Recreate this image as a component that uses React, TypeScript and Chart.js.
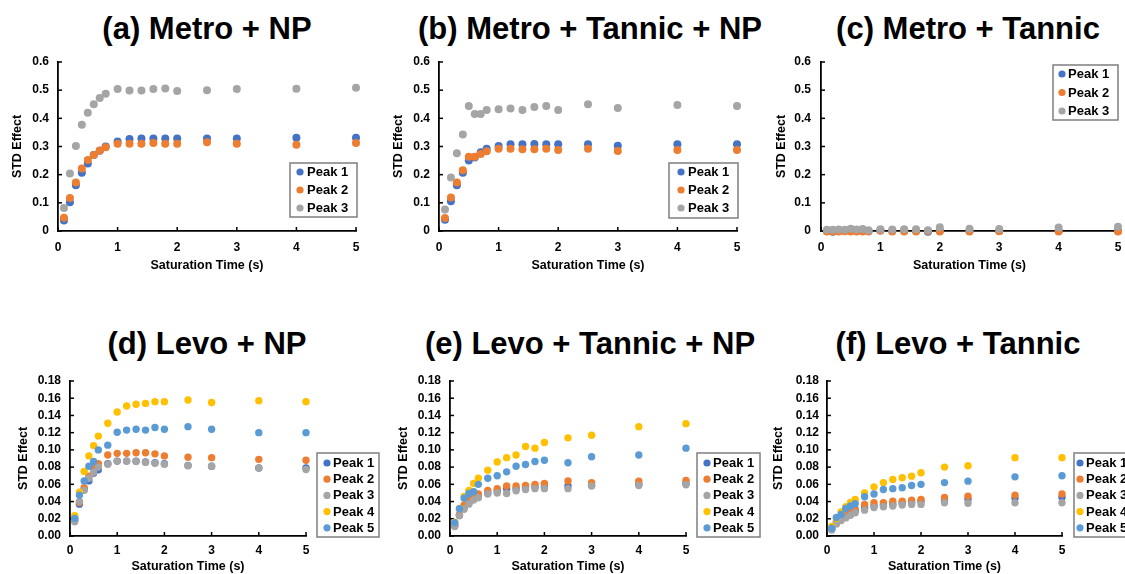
import React, { useEffect, useRef } from 'react';
import { Chart, registerables } from 'chart.js';

Chart.register(...registerables);

const PAGE_W = 1125;
const PAGE_H = 574;
const FONT = '"Liberation Sans", Arial, Helvetica, sans-serif';

// ---------- data ----------
const metroTimes = [0.1, 0.2, 0.3, 0.4, 0.5, 0.6, 0.7, 0.8, 1, 1.2, 1.4, 1.6, 1.8, 2, 2.5, 3, 4, 5];
const levoTimes = [0.1, 0.2, 0.3, 0.4, 0.5, 0.6, 0.8, 1, 1.2, 1.4, 1.6, 1.8, 2, 2.5, 3, 4, 5];

const peakLabels = ['Peak 1', 'Peak 2', 'Peak 3', 'Peak 4', 'Peak 5'];
const peakColors = ['#4472C4', '#ED7D31', '#A5A5A5', '#FFC000', '#5B9BD5'];

// (a) Metro + NP
const aPeak1 = [0.037, 0.102, 0.162, 0.207, 0.24, 0.27, 0.285, 0.3, 0.318, 0.327, 0.328, 0.328, 0.328, 0.328, 0.328, 0.328, 0.331, 0.331];
const aPeak2 = [0.047, 0.117, 0.172, 0.222, 0.252, 0.27, 0.286, 0.297, 0.31, 0.31, 0.31, 0.312, 0.31, 0.31, 0.315, 0.31, 0.306, 0.312];
const aPeak3 = [0.082, 0.204, 0.302, 0.377, 0.42, 0.45, 0.472, 0.487, 0.504, 0.499, 0.499, 0.504, 0.506, 0.497, 0.5, 0.504, 0.505, 0.509];

// (b) Metro + Tannic + NP
const bPeak1 = [0.04, 0.106, 0.162, 0.207, 0.25, 0.261, 0.28, 0.292, 0.302, 0.308, 0.308, 0.309, 0.308, 0.308, 0.308, 0.303, 0.308, 0.308];
const bPeak2 = [0.046, 0.119, 0.172, 0.216, 0.264, 0.264, 0.273, 0.283, 0.292, 0.292, 0.29, 0.29, 0.292, 0.288, 0.292, 0.284, 0.288, 0.288];
const bPeak3 = [0.076, 0.19, 0.276, 0.343, 0.444, 0.415, 0.415, 0.43, 0.432, 0.435, 0.43, 0.44, 0.444, 0.43, 0.45, 0.437, 0.447, 0.444];

// (c) Metro + Tannic
const cPeak1 = [0.0, -0.003, 0.0, 0.0, 0.001, 0.0, 0.001, 0.0, 0.002, 0.0, 0.001, 0.001, -0.003, 0.001, 0.0, 0.0, 0.001, 0.001];
const cPeak2 = [-0.002, -0.002, -0.002, -0.001, -0.002, -0.002, -0.002, -0.002, 0.002, -0.002, -0.002, -0.002, 0.0, -0.002, -0.002, -0.001, -0.002, -0.002];
const cPeak3 = [0.004, 0.004, 0.005, 0.004, 0.008, 0.005, 0.007, 0.003, 0.006, 0.005, 0.006, 0.006, 0.003, 0.013, 0.008, 0.007, 0.012, 0.015];

// (d) Levo + NP
const dPeak1 = [0.018, 0.037, 0.054, 0.064, 0.073, 0.077, 0.084, 0.087, 0.087, 0.087, 0.086, 0.085, 0.084, 0.082, 0.081, 0.079, 0.079];
const dPeak2 = [0.02, 0.039, 0.056, 0.0695, 0.08, 0.084, 0.094, 0.096, 0.096, 0.0966, 0.0966, 0.0954, 0.093, 0.0915, 0.091, 0.089, 0.088];
const dPeak3 = [0.0166, 0.04, 0.053, 0.067, 0.074, 0.08, 0.0834, 0.087, 0.087, 0.0865, 0.0857, 0.0846, 0.0834, 0.0815, 0.081, 0.079, 0.0773];
const dPeak4 = [0.0236, 0.051, 0.075, 0.093, 0.105, 0.116, 0.131, 0.144, 0.151, 0.153, 0.154, 0.156, 0.156, 0.158, 0.155, 0.157, 0.156];
const dPeak5 = [0.0205, 0.0475, 0.064, 0.081, 0.0865, 0.1, 0.1055, 0.1205, 0.123, 0.124, 0.123, 0.126, 0.124, 0.127, 0.124, 0.12, 0.12];

// (e) Levo + Tannic + NP
const ePeak1 = [0.012, 0.024, 0.033, 0.039, 0.044, 0.046, 0.05, 0.052, 0.055, 0.055, 0.056, 0.057, 0.057, 0.058, 0.059, 0.06, 0.061];
const ePeak2 = [0.013, 0.025, 0.036, 0.042, 0.046, 0.0487, 0.053, 0.055, 0.058, 0.058, 0.0587, 0.06, 0.061, 0.064, 0.062, 0.0637, 0.0645];
const ePeak3 = [0.011, 0.0236, 0.031, 0.037, 0.0417, 0.0444, 0.0487, 0.05, 0.0494, 0.0525, 0.054, 0.055, 0.055, 0.055, 0.058, 0.0587, 0.0595];
const ePeak4 = [0.016, 0.032, 0.046, 0.053, 0.061, 0.067, 0.0765, 0.086, 0.091, 0.094, 0.104, 0.102, 0.1085, 0.114, 0.117, 0.127, 0.1305];
const ePeak5 = [0.0155, 0.0317, 0.044, 0.0494, 0.0514, 0.06, 0.067, 0.07, 0.0745, 0.081, 0.083, 0.0865, 0.088, 0.085, 0.092, 0.094, 0.102];

// (f) Levo + Tannic
const fPeak1 = [0.008, 0.015, 0.02, 0.024, 0.027, 0.029, 0.033, 0.035, 0.036, 0.037, 0.038, 0.039, 0.04, 0.041, 0.043, 0.044, 0.045];
const fPeak2 = [0.008, 0.017, 0.022, 0.026, 0.029, 0.031, 0.0367, 0.0386, 0.0386, 0.0405, 0.0405, 0.0417, 0.0425, 0.0448, 0.0463, 0.0475, 0.0487];
const fPeak3 = [0.007, 0.014, 0.018, 0.021, 0.024, 0.027, 0.03, 0.033, 0.034, 0.0348, 0.036, 0.0367, 0.0367, 0.0386, 0.038, 0.0386, 0.0386];
const fPeak4 = [0.011, 0.0205, 0.028, 0.034, 0.039, 0.0425, 0.05, 0.057, 0.062, 0.0657, 0.0676, 0.0695, 0.0734, 0.08, 0.0815, 0.091, 0.091];
const fPeak5 = [0.009, 0.0216, 0.025, 0.032, 0.0348, 0.0375, 0.0456, 0.0487, 0.054, 0.055, 0.056, 0.0587, 0.06, 0.062, 0.0637, 0.0687, 0.07];

// ticks
const xTickValues = [0, 1, 2, 3, 4, 5];
const xTickLabels = ['0', '1', '2', '3', '4', '5'];
const metroYTickValues = [0, 0.1, 0.2, 0.3, 0.4, 0.5, 0.6];
const metroYTickLabels = ['0', '0.1', '0.2', '0.3', '0.4', '0.5', '0.6'];
const levoYTickValues = [0, 0.02, 0.04, 0.06, 0.08, 0.1, 0.12, 0.14, 0.16, 0.18];
const levoYTickLabels = ['0.00', '0.02', '0.04', '0.06', '0.08', '0.10', '0.12', '0.14', '0.16', '0.18'];

const xTitle = 'Saturation Time (s)';
const yTitle = 'STD Effect';

// ---------- plugins ----------
const boxLegendPlugin = {
  id: 'boxLegend',
  afterDraw(chart: any, _args: any, opts: any) {
    if (!opts || !opts.display) return;
    const ctx = chart.ctx;
    ctx.save();
    ctx.fillStyle = '#ffffff';
    ctx.fillRect(opts.x, opts.y, opts.w, opts.h);
    ctx.strokeStyle = '#7f7f7f';
    ctx.lineWidth = 1.5;
    ctx.strokeRect(opts.x, opts.y, opts.w, opts.h);
    chart.data.datasets.forEach((ds: any, i: number) => {
      const cy = opts.firstRowY + i * opts.rowH;
      ctx.beginPath();
      ctx.arc(opts.markerX, cy, 3.6, 0, Math.PI * 2);
      ctx.fillStyle = ds.backgroundColor;
      ctx.fill();
      ctx.fillStyle = '#000000';
      ctx.font = `bold 13px ${FONT}`;
      ctx.textBaseline = 'middle';
      ctx.textAlign = 'left';
      ctx.fillText(ds.label, opts.textX, cy + 0.5);
    });
    ctx.restore();
  },
};

const innerTicksPlugin = {
  id: 'innerTicks',
  beforeDatasetsDraw(chart: any) {
    const { ctx, chartArea, scales } = chart;
    ctx.save();
    ctx.strokeStyle = '#000000';
    ctx.lineWidth = 1.5;
    scales.x.ticks.forEach((t: any) => {
      const px = scales.x.getPixelForValue(t.value);
      ctx.beginPath();
      ctx.moveTo(px, chartArea.bottom);
      ctx.lineTo(px, chartArea.bottom - 4);
      ctx.stroke();
    });
    scales.y.ticks.forEach((t: any) => {
      const py = scales.y.getPixelForValue(t.value);
      ctx.beginPath();
      ctx.moveTo(chartArea.left, py);
      ctx.lineTo(chartArea.left + 4, py);
      ctx.stroke();
    });
    ctx.restore();
  },
};

// ---------- panels ----------
type PanelCfg = {
  title: string;
  titleCx: number;
  titleBaseline: number;
  times: number[];
  series: number[][];
  yMax: number;
  yTickValues: number[];
  yTickLabels: string[];
  area: { left: number; right: number; top: number; bottom: number };
  yAxisW: number;
  xAxisH: number;
  xTickPad: number;
  yTickPad: number;
  pointR: number;
  legend: { x: number; y: number; w: number; h: number; firstRowY: number; rowH: number; markerX: number; textX: number };
};

const panels: PanelCfg[] = [
  {
    title: '(a) Metro + NP', titleCx: 207, titleBaseline: 39,
    times: metroTimes, series: [aPeak1, aPeak2, aPeak3],
    yMax: 0.6, yTickValues: metroYTickValues, yTickLabels: metroYTickLabels,
    area: { left: 58, right: 356, top: 62, bottom: 231 }, yAxisW: 48, xAxisH: 42, xTickPad: 9, yTickPad: 9, pointR: 4,
    legend: { x: 290, y: 163, w: 67, h: 54, firstRowY: 172, rowH: 18, markerX: 300, textX: 307 },
  },
  {
    title: '(b) Metro + Tannic + NP', titleCx: 590, titleBaseline: 39,
    times: metroTimes, series: [bPeak1, bPeak2, bPeak3],
    yMax: 0.6, yTickValues: metroYTickValues, yTickLabels: metroYTickLabels,
    area: { left: 439, right: 737, top: 62, bottom: 231 }, yAxisW: 48, xAxisH: 42, xTickPad: 9, yTickPad: 9, pointR: 4,
    legend: { x: 669, y: 163, w: 69, h: 55, firstRowY: 172, rowH: 18, markerX: 681, textX: 688 },
  },
  {
    title: '(c) Metro + Tannic', titleCx: 968, titleBaseline: 39,
    times: metroTimes, series: [cPeak1, cPeak2, cPeak3],
    yMax: 0.6, yTickValues: metroYTickValues, yTickLabels: metroYTickLabels,
    area: { left: 821, right: 1118, top: 62, bottom: 231 }, yAxisW: 47, xAxisH: 42, xTickPad: 9, yTickPad: 10, pointR: 4,
    legend: { x: 1053, y: 65, w: 65, h: 55, firstRowY: 74, rowH: 18.5, markerX: 1062, textX: 1068 },
  },
  {
    title: '(d) Levo + NP', titleCx: 207, titleBaseline: 354,
    times: levoTimes, series: [dPeak1, dPeak2, dPeak3, dPeak4, dPeak5],
    yMax: 0.18, yTickValues: levoYTickValues, yTickLabels: levoYTickLabels,
    area: { left: 70, right: 306, top: 381, bottom: 536 }, yAxisW: 54, xAxisH: 38, xTickPad: 7, yTickPad: 9, pointR: 3.7,
    legend: { x: 317, y: 453, w: 62, h: 84, firstRowY: 463, rowH: 16.2, markerX: 327, textX: 333 },
  },
  {
    title: '(e) Levo + Tannic + NP', titleCx: 590, titleBaseline: 354,
    times: levoTimes, series: [ePeak1, ePeak2, ePeak3, ePeak4, ePeak5],
    yMax: 0.18, yTickValues: levoYTickValues, yTickLabels: levoYTickLabels,
    area: { left: 450, right: 686, top: 381, bottom: 536 }, yAxisW: 54, xAxisH: 38, xTickPad: 7, yTickPad: 9, pointR: 3.7,
    legend: { x: 697, y: 453, w: 63, h: 84, firstRowY: 463, rowH: 16.2, markerX: 707, textX: 713 },
  },
  {
    title: '(f) Levo + Tannic', titleCx: 958, titleBaseline: 354,
    times: levoTimes, series: [fPeak1, fPeak2, fPeak3, fPeak4, fPeak5],
    yMax: 0.18, yTickValues: levoYTickValues, yTickLabels: levoYTickLabels,
    area: { left: 827, right: 1062, top: 381, bottom: 536 }, yAxisW: 56, xAxisH: 38, xTickPad: 7, yTickPad: 8, pointR: 3.7,
    legend: { x: 1074, y: 453, w: 70, h: 84, firstRowY: 463, rowH: 16.2, markerX: 1080, textX: 1086 },
  },
];

function Panel({ cfg }: { cfg: PanelCfg }) {
  const ref = useRef<HTMLCanvasElement | null>(null);
  useEffect(() => {
    if (!ref.current) return;
    const tickFont = { family: FONT, size: 12, weight: 'bold' as const };
    const titleFont = { family: FONT, size: 12.5, weight: 'bold' as const };
    const chart = new Chart(ref.current, {
      type: 'scatter',
      data: {
        datasets: cfg.series.map((vals, i) => ({
          label: peakLabels[i],
          data: vals.map((v, j) => ({ x: cfg.times[j], y: v })),
          backgroundColor: peakColors[i],
          borderColor: peakColors[i],
          borderWidth: 0,
          pointRadius: cfg.pointR,
          pointHoverRadius: cfg.pointR,
          clip: false as any,
          order: -i,
        })),
      },
      options: {
        responsive: false,
        animation: false,
        events: [],
        layout: {
          padding: {
            left: cfg.area.left - cfg.yAxisW,
            right: PAGE_W - cfg.area.right,
            top: cfg.area.top,
            bottom: PAGE_H - cfg.area.bottom - cfg.xAxisH,
          },
        },
        plugins: {
          legend: { display: false },
          tooltip: { enabled: false },
          boxLegend: { display: true, ...cfg.legend },
        } as any,
        scales: {
          x: {
            type: 'linear',
            position: 'bottom',
            min: 0,
            max: 5,
            afterBuildTicks: (s: any) => {
              s.ticks = xTickValues.map((v) => ({ value: v }));
            },
            afterFit: (s: any) => {
              s.height = cfg.xAxisH;
              s.paddingLeft = 0;
              s.paddingRight = 0;
              s.paddingTop = 0;
              s.paddingBottom = 0;
            },
            grid: { display: false, drawTicks: false },
            border: { display: true, color: '#000000', width: 1.8 },
            ticks: {
              padding: cfg.xTickPad,
              color: '#000000',
              font: tickFont,
              maxRotation: 0,
              autoSkip: false,
              callback: (_v: any, i: number) => xTickLabels[i],
            },
            title: { display: true, text: xTitle, color: '#000000', font: titleFont, padding: 0 },
          },
          y: {
            type: 'linear',
            position: 'left',
            min: 0,
            max: cfg.yMax,
            afterBuildTicks: (s: any) => {
              s.ticks = cfg.yTickValues.map((v) => ({ value: v }));
            },
            afterFit: (s: any) => {
              s.width = cfg.yAxisW;
              s.paddingLeft = 0;
              s.paddingRight = 0;
              s.paddingTop = 0;
              s.paddingBottom = 0;
            },
            grid: { display: false, drawTicks: false },
            border: { display: true, color: '#000000', width: 1.8 },
            ticks: {
              padding: cfg.yTickPad,
              color: '#000000',
              font: tickFont,
              autoSkip: false,
              callback: (_v: any, i: number) => cfg.yTickLabels[i],
            },
            title: { display: true, text: yTitle, color: '#000000', font: titleFont, padding: 0 },
          },
        },
      } as any,
      plugins: [innerTicksPlugin, boxLegendPlugin],
    });
    return () => chart.destroy();
  }, [cfg]);
  return (
    <canvas
      ref={ref}
      width={PAGE_W}
      height={PAGE_H}
      style={{ position: 'absolute', left: 0, top: 0, width: PAGE_W, height: PAGE_H }}
    />
  );
}

export default function App() {
  const titleSize = 31;
  return (
    <div
      style={{
        position: 'absolute',
        left: 0,
        top: 0,
        width: PAGE_W,
        height: PAGE_H,
        background: '#ffffff',
        overflow: 'hidden',
      }}
    >
      {panels.map((p, i) => (
        <div
          key={'t' + i}
          style={{
            position: 'absolute',
            left: p.titleCx - 300,
            width: 600,
            top: p.titleBaseline - titleSize * 0.8465,
            textAlign: 'center',
            fontFamily: FONT,
            fontWeight: 'bold',
            fontSize: titleSize,
            lineHeight: `${titleSize}px`,
            color: '#000000',
            whiteSpace: 'nowrap',
          }}
        >
          {p.title}
        </div>
      ))}
      {panels.map((p, i) => (
        <Panel key={'p' + i} cfg={p} />
      ))}
    </div>
  );
}
